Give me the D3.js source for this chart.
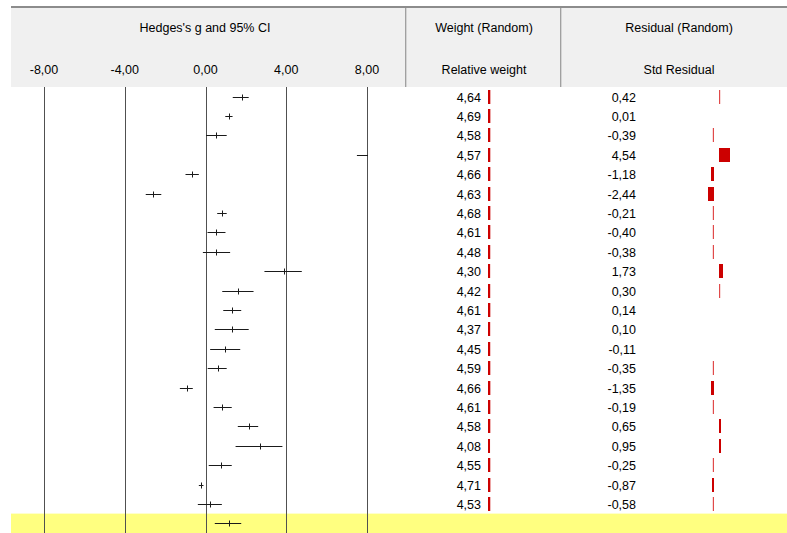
<!DOCTYPE html>
<html>
<head>
<meta charset="utf-8">
<script src="https://cdn.jsdelivr.net/npm/d3@7"></script>
<style>
	body { margin: 0; background: #ffffff; }
	svg text { font-family: "Liberation Sans", Arial, sans-serif; font-size: 12.5px; fill: #000; }
</style>
</head>
<body>
<div id="chart"></div>
<script>

// study values
let effect = [1.80, 1.14, 0.54, 9.20, -0.68, -2.59, 0.81, 0.54, 0.54, 3.91, 1.62,
	1.32, 1.32, 0.98, 0.61, -0.91, 0.84, 2.14, 2.71, 0.78, -0.21, 0.23];
let lower = [1.35, 0.98, 0.03, 7.50, -0.99, -2.96, 0.58, 0.10, -0.13, 2.92, 0.83,
	0.88, 0.46, 0.23, 0.11, -1.27, 0.40, 1.60, 1.49, 0.16, -0.33, -0.38];
let upper = [2.14, 1.34, 1.05, 10.90, -0.33, -2.19, 1.05, 0.99, 1.22, 4.77, 2.38,
	1.77, 2.14, 1.72, 1.05, -0.63, 1.30, 2.61, 3.81, 1.30, -0.10, 0.81];
let weights = [4.64, 4.69, 4.58, 4.57, 4.66, 4.63, 4.68, 4.61, 4.48, 4.30, 4.42,
	4.61, 4.37, 4.45, 4.59, 4.66, 4.61, 4.58, 4.08, 4.55, 4.71, 4.53];
let residuals = [0.42, 0.01, -0.39, 4.54, -1.18, -2.44, -0.21, -0.40, -0.38, 1.73, 0.30,
	0.14, 0.10, -0.11, -0.35, -1.35, -0.19, 0.65, 0.95, -0.25, -0.87, -0.58];

let summary = { effect: 1.14, lower: 0.46, upper: 1.77 };

let ticks = [-8, -4, 0, 4, 8];

let width = 787, height = 533;

let fmt = v => d3.format('.2f')(v).replace('.', ',').replace('−', '-');

let svg = d3.select('#chart').append('svg')
	.attr('width', width)
	.attr('height', height);

let xScale = d3.scaleLinear()
	.domain([-8, 8])
	.range([44, 367]);

let rows = d3.range(effect.length + 1);

let yScale = d3.scaleBand()
	.domain(rows)
	.range([87, 533]);

let weightScale = d3.scaleLinear()
	.domain([0, 100])
	.range([0, 50]);

let resScale = d3.scaleLinear()
	.domain([0, 5])
	.range([0, 11.8]);

let resZero = 716.5;

// header
svg.append('rect')
	.attr('x', 11).attr('y', 6)
	.attr('width', width - 11).attr('height', 81)
	.attr('fill', '#f0f0f0');

svg.append('rect')
	.attr('x', 11).attr('y', 6)
	.attr('width', width - 11).attr('height', 2)
	.attr('fill', '#8c8c8c');

[405, 560].forEach(x => {
	svg.append('rect')
		.attr('x', x).attr('y', 8)
		.attr('width', 1).attr('height', 79)
		.attr('fill', '#a0a0a0');
	svg.append('rect')
		.attr('x', x + 1).attr('y', 8)
		.attr('width', 1).attr('height', 79)
		.attr('fill', '#d4d4d4');
});

svg.append('text')
	.attr('x', 205).attr('y', 32)
	.attr('text-anchor', 'middle')
	.text("Hedges's g and 95% CI");

svg.append('text')
	.attr('x', 484).attr('y', 32)
	.attr('text-anchor', 'middle')
	.text('Weight (Random)');

svg.append('text')
	.attr('x', 679).attr('y', 32)
	.attr('text-anchor', 'middle')
	.text('Residual (Random)');

svg.append('text')
	.attr('x', 484).attr('y', 74)
	.attr('text-anchor', 'middle')
	.text('Relative weight');

svg.append('text')
	.attr('x', 679).attr('y', 74)
	.attr('text-anchor', 'middle')
	.text('Std Residual');

svg.append('g')
	.selectAll('text')
	.data(ticks)
	.enter()
	.append('text')
	.attr('x', d => xScale(d))
	.attr('y', 74)
	.attr('text-anchor', 'middle')
	.text(d => fmt(d));

// summary band
svg.append('rect')
	.attr('x', 11)
	.attr('y', yScale(effect.length))
	.attr('width', width - 11)
	.attr('height', height - yScale(effect.length))
	.attr('fill', '#ffff80');

// grid lines
svg.append('g')
	.selectAll('line')
	.data(ticks)
	.enter()
	.append('line')
	.attr('x1', d => Math.round(xScale(d)) + 0.5)
	.attr('x2', d => Math.round(xScale(d)) + 0.5)
	.attr('y1', 87)
	.attr('y2', height)
	.attr('stroke', '#505050')
	.attr('stroke-width', 1);

svg.append('clipPath')
	.attr('id', 'plotClip')
	.append('rect')
	.attr('x', xScale(-8))
	.attr('y', 87)
	.attr('width', xScale(8) - xScale(-8) + 1)
	.attr('height', height - 87);

let yMid = i => Math.round(yScale(i) + yScale.bandwidth() / 2) + 0.5;

let studies = effect.map((d, i) => ({ effect: d, lower: lower[i], upper: upper[i], row: i }));
studies.push({ effect: summary.effect, lower: summary.lower, upper: summary.upper, row: effect.length });

let forest = svg.append('g')
	.attr('clip-path', 'url(#plotClip)')
	.selectAll('g')
	.data(studies)
	.enter()
	.append('g');

forest.append('line')
	.attr('x1', d => xScale(d.lower))
	.attr('x2', d => xScale(d.upper))
	.attr('y1', d => yMid(d.row))
	.attr('y2', d => yMid(d.row))
	.attr('stroke', '#1a1a1a')
	.attr('stroke-width', 1);

forest.append('line')
	.attr('x1', d => Math.round(xScale(d.effect)) + 0.5)
	.attr('x2', d => Math.round(xScale(d.effect)) + 0.5)
	.attr('y1', d => yMid(d.row) - 3)
	.attr('y2', d => yMid(d.row) + 3)
	.attr('stroke', '#1a1a1a')
	.attr('stroke-width', 1);

// weight column
let weightRows = svg.append('g')
	.selectAll('g')
	.data(weights)
	.enter()
	.append('g');

weightRows.append('text')
	.attr('x', 481)
	.attr('y', (d, i) => yMid(i) + 4)
	.attr('text-anchor', 'end')
	.text(d => fmt(d));

weightRows.append('rect')
	.attr('x', 488)
	.attr('y', (d, i) => yMid(i) - 7.5)
	.attr('width', d => weightScale(d))
	.attr('height', 14)
	.attr('fill', '#cc0000');

// residual column
let resData = residuals.map((d, i) => ({ value: d, row: i }));

let resRows = svg.append('g')
	.selectAll('g')
	.data(resData)
	.enter()
	.append('g');

resRows.append('text')
	.attr('x', 636)
	.attr('y', d => yMid(d.row) + 4)
	.attr('text-anchor', 'end')
	.text(d => fmt(d.value));

let resWidth = d => Math.max(1.2, Math.round(resScale(Math.abs(d.value))));

resRows.filter(d => resScale(Math.abs(d.value)) >= 0.4)
	.append('rect')
	.attr('x', d => d.value > 0 ? resZero + 2.5 : resZero - 2.5 - resWidth(d))
	.attr('y', d => yMid(d.row) - 7.5)
	.attr('width', d => resWidth(d))
	.attr('height', 14)
	.attr('fill', d => resWidth(d) > 1.5 ? '#cc0000' : '#e04a4a');

</script>
</body>
</html>
